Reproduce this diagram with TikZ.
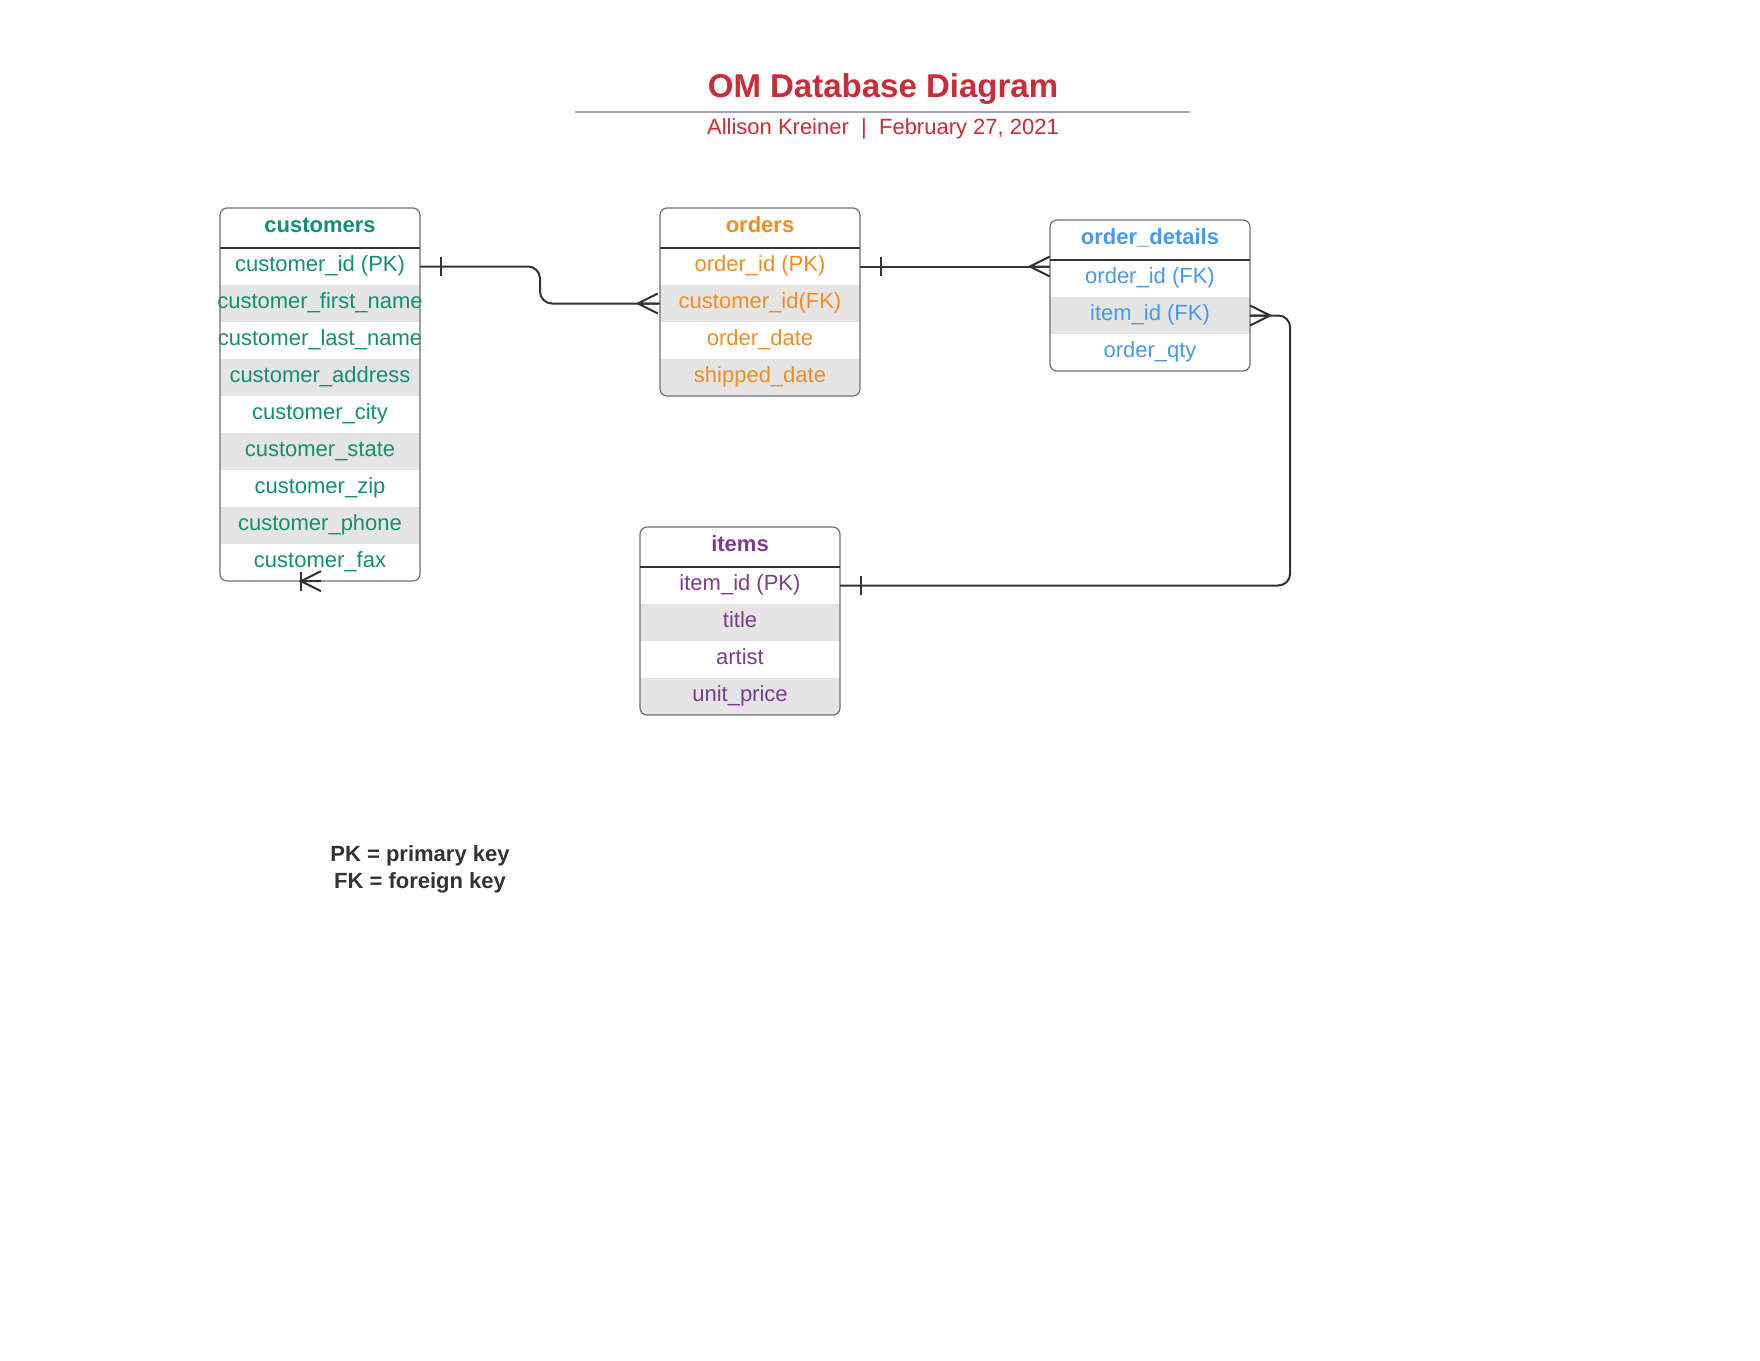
\documentclass[tikz,border=0pt]{standalone}
\usepackage{fontspec}
\setmainfont{Liberation Sans}
\usetikzlibrary{positioning,calc}
\definecolor{titlered}{HTML}{C92D39}
\definecolor{custgreen}{HTML}{138F74}
\definecolor{orderorange}{HTML}{EF8D22}
\definecolor{detailblue}{HTML}{4799F0}
\definecolor{itempurple}{HTML}{7D3C8C}
\definecolor{rowgray}{HTML}{E5E5E5}
\definecolor{framegray}{HTML}{707070}
\definecolor{linedark}{HTML}{333333}
\definecolor{rulegray}{HTML}{A0A4B6}
\tikzset{
  tblhead/.style={minimum width=200, minimum height=40, inner sep=0,
    text height=15, text depth=6.4, font=\fontsize{22}{26}\selectfont\bfseries},
  tblrow/.style={minimum width=200, minimum height=37, inner sep=0,
    text height=15, text depth=4.6, font=\fontsize{22}{26}\selectfont},
  tblframe/.style={draw=framegray, line width=1.2, rounded corners=7},
  tblsep/.style={draw=linedark, line width=1.2},
  relline/.style={draw=linedark, line width=2},
}
\tikzset{
  pics/erdtable/.style args={#1/#2/#3/#4}{% #1=colour, #2=title, #3=rows, #4=fields
    code = {
      \begin{scope}
        \clip[rounded corners=7] (-100, 0) rectangle (100, 40+#3*37);
        \foreach \i in {2,4,...,#3}
          \fill[rowgray] (-100, {40+(\i-1)*37}) rectangle (100, {40+\i*37});
      \end{scope}
      \node[tblhead, text=#1] (-0) at (0, 20) {#2};
      \foreach \f [count=\i] in {#4}
        \node[tblrow, text=#1] (-\i) at (0, {40+(\i-0.5)*37}) {\f};
      \draw[tblframe] (-100, 0) rectangle (100, 40+#3*37);
      \draw[tblsep] (-100, 40) -- (100, 40);
}}}
\tikzset{
  pics/crowfoot/.style={
    code = {
      \draw[relline] (20, -10) -- (0, 0) -- (20, 10) (0, 0) -- (20, 0);
}}}
\tikzset{
  pics/onebar/.style={
    code = {
      \draw[relline] (0, -9.5) -- (0, 9.5);
}}}
\begin{document}
\begin{tikzpicture}[x=1pt, y=-1pt]
  \path[fill=white, use as bounding box] (0, 0) rectangle (1760, 1360);
  % heading
  \node[text=titlered, font=\fontsize{33}{38}\selectfont\bfseries] (title) at (883, 89.5) {OM Database Diagram};
  \draw[rulegray, line width=1.5] (575, 112) -- (1190, 112);
  \node[text=titlered, font=\fontsize{22}{26}\selectfont] (byline) at (883, 129) {Allison Kreiner~~|~~February 27, 2021};

  % tables
  \pic (customers) at (320, 208) {erdtable={custgreen/customers/9/{customer\_id (PK), customer\_first\_name, customer\_last\_name, customer\_address, customer\_city, customer\_state, customer\_zip, customer\_phone, customer\_fax}}};
  \pic (orders) at (760, 208) {erdtable={orderorange/orders/4/{order\_id (PK), customer\_id(FK), order\_date, shipped\_date}}};
  \pic (details) at (1150, 220) {erdtable={detailblue/order\_details/3/{order\_id (FK), item\_id (FK), order\_qty}}};
  \pic (items) at (740, 527) {erdtable={itempurple/items/4/{item\_id (PK), title, artist, unit\_price}}};

  % relations
  \coordinate (custmid) at ($(customers-1.east)!.5!(orders-2.west)$);
  \coordinate (custbend) at (custmid |- orders-2.west);
  \draw[relline, rounded corners=12] (customers-1.east) -| (custbend) -- (orders-2.west);
  \pic at ([xshift=21]customers-1.east) {onebar};
  \pic at ([xshift=-22]orders-2.west) {crowfoot};

  \coordinate (detin) at (orders-1.east -| details-0.west);
  \draw[relline] (orders-1.east) -- (detin);
  \pic at ([xshift=21]orders-1.east) {onebar};
  \pic at ([xshift=-20]detin) {crowfoot};

  \draw[relline, rounded corners=12] (details-2.east) -- ++(40, 0) |- (items-1.east);
  \pic[rotate=180] at ([xshift=20]details-2.east) {crowfoot};
  \pic at ([xshift=21]items-1.east) {onebar};

  \coordinate (custfoot) at ([xshift=-19]customers-9.south);
  \pic at (custfoot) {crowfoot};
  \pic at (custfoot) {onebar};

  % legend
  \node[text=linedark, align=center, font=\fontsize{22}{27}\selectfont\bfseries] (legend) at (420, 869.5) {PK = primary key\\FK = foreign key};
\end{tikzpicture}
\end{document}
